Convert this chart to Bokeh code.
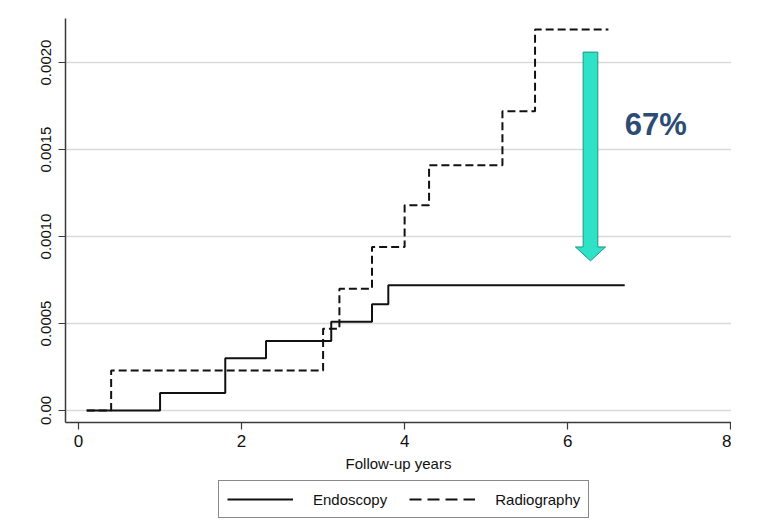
from bokeh.plotting import figure
from bokeh.layouts import column
from bokeh.models import Legend, LegendItem, FixedTicker, Range1d
from bokeh.core.properties import value
from bokeh.embed import file_html
from bokeh.resources import INLINE

# ---- data ----
endo_years = [0.1, 1.0, 1.8, 2.3, 3.1, 3.6, 3.8, 6.7]
endo_rate = [0.0, 0.0001, 0.0003, 0.0004, 0.00051, 0.00061, 0.00072, 0.00072]

radio_years = [0.1, 0.4, 3.0, 3.2, 3.6, 4.0, 4.3, 5.2, 5.6, 6.5]
radio_rate = [0.0, 0.00023, 0.00047, 0.0007, 0.00094, 0.00118, 0.00141, 0.00172, 0.00219, 0.00219]

x_ticks = [0, 2, 4, 6, 8]
y_ticks = [0.0, 0.0005, 0.001, 0.0015, 0.002]
y_tick_labels = ["0.00", "0.0005", "0.0010", "0.0015", "0.0020"]

series_names = ["Endoscopy", "Radiography"]
reduction_label = "67%"

# annotation arrow (data units)
arrow_x = 6.28
arrow_top = 0.00206
arrow_tip = 0.00086
shaft_half = 0.09
head_half = 0.185
head_len = 0.00008

FONT = "Liberation Sans"
INK = "#111111"

p = figure(width=731, height=480, output_backend="svg", toolbar_location=None,
           x_range=Range1d(-0.16, 8.01), y_range=Range1d(-0.000069, 0.002253),
           min_border_left=65, min_border_right=0, min_border_top=18, min_border_bottom=58)
p.outline_line_color = None
p.background_fill_color = "white"

# grid
p.xgrid.grid_line_color = None
p.ygrid.grid_line_color = "#d9d9d9"
p.ygrid.grid_line_width = 1.5
p.ygrid.ticker = FixedTicker(ticks=y_ticks)

# axes
p.xaxis.ticker = FixedTicker(ticks=x_ticks)
p.yaxis.ticker = FixedTicker(ticks=y_ticks)
p.yaxis.major_label_overrides = {t: l for t, l in zip(y_ticks, y_tick_labels)}
p.yaxis.major_label_orientation = "vertical"
for ax in (p.xaxis[0], p.yaxis[0]):
    ax.axis_line_color = "#3a3a3a"
    ax.axis_line_width = 1.5
    ax.major_tick_line_color = "#3a3a3a"
    ax.major_tick_line_width = 1.2
    ax.major_tick_out = 7
    ax.major_tick_in = 0
    ax.minor_tick_line_color = None
    ax.major_label_text_font = FONT
    ax.major_label_text_color = INK
p.xaxis.major_label_text_font_size = "17px"
p.yaxis.major_label_text_font_size = "15px"
p.xaxis.major_label_standoff = 5
p.yaxis.major_label_standoff = 7
p.xaxis.axis_label = "Follow-up years"
p.xaxis.axis_label_text_font = FONT
p.xaxis.axis_label_text_font_size = "15px"
p.xaxis.axis_label_text_font_style = "normal"
p.xaxis.axis_label_text_color = INK
p.xaxis.axis_label_standoff = 5

# step lines
p.step(endo_years, endo_rate, mode="after", line_color=INK, line_width=2)
p.step(radio_years, radio_rate, mode="after", line_color=INK, line_width=2, line_dash="8 4")

# arrow built from named constants
ax_ = [arrow_x - shaft_half, arrow_x + shaft_half, arrow_x + shaft_half, arrow_x + head_half,
       arrow_x, arrow_x - head_half, arrow_x - shaft_half]
ay_ = [arrow_top, arrow_top, arrow_tip + head_len, arrow_tip + head_len,
       arrow_tip, arrow_tip + head_len, arrow_tip + head_len]
p.patch(ax_, ay_, fill_color="#2de2c6", line_color="#1f9483", line_width=1)

p.text(x=[7.08], y=[0.001644], text=[reduction_label], text_font=value(FONT),
       text_font_size="31px", text_font_style="bold", text_color="#2c4c74",
       text_align="center", text_baseline="middle")

# legend strip below the chart (series drawn off-view so only the legend shows)
q = figure(width=731, height=52, output_backend="svg", toolbar_location=None,
           x_range=Range1d(-0.16, 8.01), y_range=Range1d(1, 2), min_border=0)
q.axis.visible = False
q.grid.grid_line_color = None
q.outline_line_color = None
l_endo = q.step(endo_years, endo_rate, mode="after", line_color=INK, line_width=2)
l_radio = q.step(radio_years, radio_rate, mode="after", line_color=INK, line_width=2,
                 line_dash="12 6")

legend = Legend(items=[LegendItem(label=series_names[0], renderers=[l_endo]),
                       LegendItem(label=series_names[1], renderers=[l_radio])],
                orientation="horizontal", location=(153, 14))
legend.border_line_color = INK
legend.border_line_width = 1.2
legend.background_fill_alpha = 1
legend.label_text_font = FONT
legend.label_text_font_size = "15px"
legend.label_text_color = INK
legend.glyph_width = 66
legend.label_standoff = 20
legend.spacing = 22
legend.padding = 8
legend.margin = 0
q.add_layout(legend, "center")

layout = column(p, q, spacing=0)
open("out.html", "w").write(file_html(layout, INLINE))
